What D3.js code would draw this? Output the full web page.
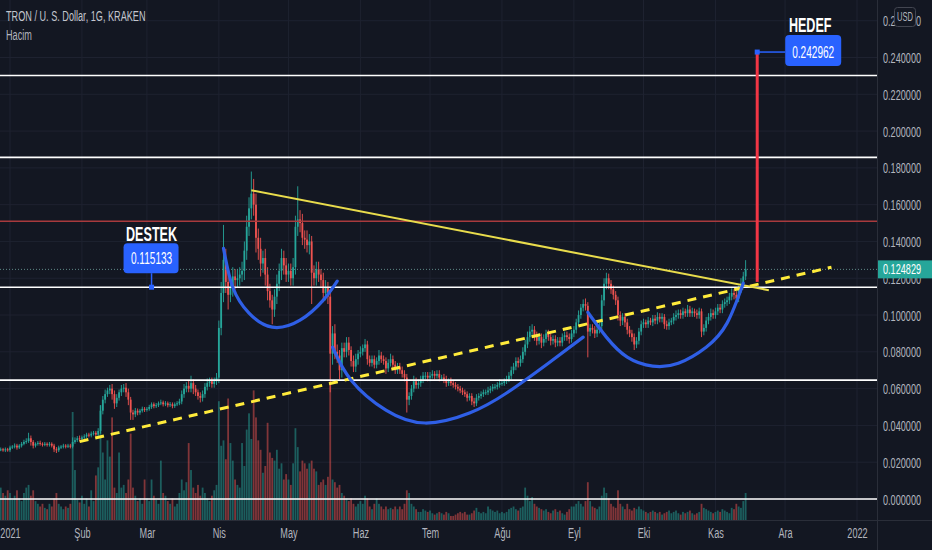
<!DOCTYPE html>
<html><head><meta charset="utf-8">
<script src="https://cdn.jsdelivr.net/npm/d3@7"></script>
<style>html,body{margin:0;padding:0;background:#131722;overflow:hidden}</style>
</head><body>
<svg id="c" width="932" height="550"></svg>
<script>
// ---------------- DATA ----------------
const title = "TRON / U. S. Dollar, 1G, KRAKEN";
const subTitle = "Hacim";
const startDate = "2020-12-28";   // first daily candle
const firstOpen = 27;             // milli-USD
// daily closes, milli-USD (Dec 28 2020 .. Nov 14 2021)
const closeM = [
 27,26.5,27,26.5,
 28,28.5,29,28,29,30,31,31.5,33,31,29,30,30.5,30,29.5,30,29.5,30,29,27,26.5,28,28.5,29,28.5,29,28.5,31,32,33,32.5,
 33.5,34,35,34.5,35.5,36,35,37,48,54,57,59,60,57,52,55,58,60,60.5,58,54,47,46,48,47,48,49,48.5,
 49,50,51.5,50.5,51,52,52.5,51.5,52,51,51.5,50.5,51.5,52,53,57,60,61.5,60,63,60,58,56,55,57,61,63,64,62.5,64,66,
 93,112,130,118,111,115,121,119,120,122,124,135,148,158,166,160,142,136,128,131,122,113,108,103,110,117,124,131,127,122,
 124,120,126,148,152,150,142,141,138,140,123,120,125,122,119,112,115,110,79,90,80,78,70,82,80,85,81,75,72,76,79,
 80,82,84,76,74,76,73,75,78,76,75,71,74,76,73,70,72,70,68,66,54,56,60,64,62,63,65,67,67,66,
 67,68,67,68,66,66,65,63,64,63,62,61,60,59,58,57,55,56,53,52,55,56,57,58,58,59,60,61,61,62,63,
 63,64,65,67,70,72,75,74,76,80,84,88,91,92,89,86,88,85,87,90,88,86,87,85,86,85,88,89,88,87,90,
 92,96,100,104,106,105,91,93,92,90,92,94,108,117,120,117,114,111,108,100,97,99,96,92,90,88,84,86,91,95,
 96,95,97,96,98,97,99,98,99,95,94,96,97,99,100,101,100,102,101,103,101,102,101,100,102,91,93,97,99,101,100,
 102,104,103,106,107,108,110,112,111,109,114,117,121,124.829
];
// upper wick above body, milli-USD
const wickUp = [
 1,0.8,1,0.8,
 1,0.8,1.2,1,0.8,1,1.2,1.5,3,1.5,1,0.8,1,1.2,0.8,1,0.8,1,0.8,1,1.2,1,0.8,1,0.8,1,1,2.5,1.5,1.2,1.5,
 1,1.2,1,1,1.2,1,1,1.5,3,2,2.5,1.5,2,2.5,2,2,1.5,2,2,2.5,2,1.5,1.5,1.5,1.2,1,1.2,1,
 1,1.2,1,1,1.2,1,1.5,1,1.2,1,1.2,1,1,1.2,1.5,2,2.5,2,3,4,2,2,1.5,2,2,2,2.5,2,2,2,2.5,
 4,6,19,6,5,6,5,4,5,4,5,5,6,6,12,8,6,5,6,4,5,4,4,3,4,5,4,5,4,4,
 4,4,5,6,18,5,5,4,5,4,3,4,4,4,3,4,4,3,3,4,5,4,3,3,3,3,3,2,3,3,2,
 3,2,3,2,2,2,2,2,3,2,2,2,2,3,2,2,2,2,2,2,2,2,2,3,2,2,2,2,2,2,
 2,2,1.5,2,2,1.5,2,2,1.5,2,1.5,1.5,1.5,1.5,1.5,1.5,1.5,1.5,1.5,2,2,1.5,1.5,1.5,1.5,2,1.5,1.5,1.5,1.5,2,
 1.5,1.5,2,2,2,2,2,2,2,2.5,2.5,3,3,3,2,2,2,2,2.5,2,2,2,2,2,2,2,2,2,2,2,2,
 2,2,2.5,2,2.5,3,2,2,2,2,2,2,3,3,3,2.5,2,2,2,2,2,2,2,2,2,2,2,2,2,2,
 2,1.5,2,1.5,2,2,2.5,2,2,1.5,2,2,1.5,2,2.5,2,2,2,1.5,2.5,2,2,1.5,2,2,1.5,2,2,2,2.5,2,
 2,2,2,2,2,2,2,2.5,2,2,2,3,2.5,5
];
// lower wick below body, milli-USD
const wickDn = [
 1,0.8,1,0.8,
 1,0.8,1,1.2,0.8,1,0.8,1,1,2,1.5,1,1,1,1,0.8,1,1,1,1.5,1.5,1,0.8,1,1,0.8,1,1,1,1,1.2,
 1,1,0.8,1,1,1,1.2,1,1.5,2,2,1.5,2,3,3,2,1.5,2,2,2.5,3,4,3,1.5,1.5,1.2,1,1.2,
 1,1,1,1.2,1,1,1,1.2,1,1.2,1,1.2,1,1,1,1.5,2,2,2,2,3,2,2,2.5,2,2,2,2,2,2,2,
 3,4,5,6,8,4,5,5,4,4,4,5,5,5,6,6,8,6,7,5,6,5,4,8,4,4,4,5,5,4,
 4,4,4,4,5,5,4,5,4,5,17,4,4,4,4,5,4,4,21,6,4,4,5,4,3,3,3,3,3,3,3,
 2,2,2,3,2,2,2,2,2,2,2,3,2,2,2,2,2,2,2,2,7,3,2,2,2,2,2,2,2,2,
 2,1.5,2,1.5,2,1.5,2,2,1.5,1.5,1.5,1.5,1.5,1.5,1.5,1.5,2,1.5,2,2,1.5,1.5,1.5,1.5,1.5,1.5,1.5,1.5,1.5,1.5,1.5,
 1.5,1.5,1.5,1.5,2,2,2,2.5,2,2,2,2,2.5,2.5,3,2.5,2,3,2,2,2,2.5,2,2.5,2,2,2,2,2,2.5,2,
 2,2,2,2,2,2.5,14,2.5,2,2.5,2,2,2,3,3,3,2.5,2.5,2.5,3,3,2.5,2.5,2.5,2,2.5,3,2,2,2,
 2,2,2,1.5,2,2,2,2,2,2.5,2,2,1.5,2,2,2,2,2,2,2,2,2,2,2,2,3,2,2,2,2,2,
 2,2,2,2,2,2,2,2,2.5,2,2,2,2,2
];
// daily volume (relative units)
const volume = [
 24,20,18,22,
 20,15,18,22,16,14,20,24,26,18,22,14,12,10,12,9,8,12,10,16,20,12,10,8,10,9,12,80,37,15,13,
 18,12,16,10,22,14,33,39,85,50,30,59,47,76,24,20,50,24,26,20,30,64,24,18,14,16,12,30,
 16,14,30,18,15,12,44,20,18,14,12,16,10,12,20,30,22,28,57,37,24,20,26,18,24,20,16,14,18,22,26,
 88,55,59,45,90,57,44,30,26,24,57,40,67,79,60,96,76,59,52,35,40,72,50,46,44,52,38,42,30,34,
 30,26,42,68,54,36,44,42,38,42,44,38,36,26,28,30,26,32,100,30,28,24,26,20,18,16,14,16,12,10,12,
 14,12,18,16,10,8,12,16,12,10,8,10,8,9,8,10,8,10,8,12,22,20,12,10,8,6,6,8,7,6,
 7,5,4,5,6,5,4,6,5,3,3,4,5,6,5,6,4,4,5,7,9,6,5,6,5,10,8,7,6,7,5,
 6,5,6,8,9,10,8,7,9,10,24,18,14,17,12,10,9,8,7,8,6,5,7,8,6,7,5,4,6,8,10,
 10,12,14,12,10,14,28,14,10,9,8,10,18,24,20,16,12,10,9,22,12,10,8,12,8,7,9,8,10,8,
 7,6,5,6,7,6,5,6,4,5,6,7,5,6,7,5,4,6,5,6,7,5,4,5,6,12,9,8,7,6,5,
 6,7,6,8,7,6,5,9,8,12,10,9,14,20
];
const priceTicks = [0,0.02,0.04,0.06,0.08,0.10,0.12,0.14,0.16,0.18,0.20,0.22,0.24,0.26];
const monthTicks = [["2021-01-01","2021"],["2021-02-01","Şub"],["2021-03-01","Mar"],["2021-04-01","Nis"],
 ["2021-05-01","May"],["2021-06-01","Haz"],["2021-07-01","Tem"],["2021-08-01","Ağu"],["2021-09-01","Eyl"],
 ["2021-10-01","Eki"],["2021-11-01","Kas"],["2021-12-01","Ara"],["2022-01-01","2022"]];
const whiteLevels = [0.2302, 0.1857, 0.115133, 0.0646, 0];
const redLevels = [0.151];
const lastPrice = 0.124829;
const trendSolid = [["2021-04-15",0.1678],["2021-11-24",0.1135]];
const trendDashed = [["2021-01-31",0.0312],["2021-12-21",0.1260]];
const arc1 = [["2021-04-03",0.1363],["2021-04-07",0.1151],["2021-04-14",0.1010],["2021-04-24",0.0934],["2021-05-06",0.0972],["2021-05-16",0.1081],["2021-05-22",0.1184]];
const arc2 = [["2021-05-20",0.0825],["2021-05-28",0.0646],["2021-06-12",0.0483],["2021-06-29",0.0413],["2021-07-18",0.0467],["2021-08-03",0.0576],["2021-08-21",0.0738],["2021-09-05",0.0880]];
const arc3 = [["2021-09-07",0.1015],["2021-09-15",0.0880],["2021-09-24",0.0771],["2021-10-05",0.0722],["2021-10-16",0.0738],["2021-10-28",0.0825],["2021-11-06",0.0956],["2021-11-13",0.1173]];
const target = {label:"HEDEF", date:"2021-11-19", from:0.118, price:0.242962};
const support = {label:"DESTEK", date:"2021-03-03", price:0.115133};

// ---------------- DRAW ----------------
const SX = 0.63;
const FONT = "'Liberation Sans', Arial, sans-serif";
const PR = 877, PB = 520;
const parse = d3.utcParse("%Y-%m-%d");
const x = d3.scaleUtc().domain([parse("2021-01-01"), parse("2022-01-01")]).range([10, 857]);
const y = d3.scaleLinear().domain([0, 0.24]).range([499, 57.5]);
const yv = d3.scaleLinear().domain([0, 100]).range([PB, 385]);
const t0 = parse(startDate);
const bars = closeM.map((c, i) => {
  const o = i === 0 ? firstOpen : closeM[i - 1];
  return {d: d3.utcDay.offset(t0, i), o: o / 1000, c: c / 1000,
    h: (Math.max(o, c) + wickUp[i]) / 1000, l: (Math.min(o, c) - wickDn[i]) / 1000, v: volume[i]};
});
const GREEN = "#26a69a", RED = "#ef5350";

const svg = d3.select("#c");
svg.append("rect").attr("width", 932).attr("height", 550).attr("fill", "#131722");
svg.append("defs").append("clipPath").attr("id", "plot").append("rect")
  .attr("x", 0).attr("y", 0).attr("width", PR).attr("height", PB);

function txt(parent, tx, ty, s, o = {}) {
  return parent.append("text")
    .attr("transform", `translate(${tx},${ty}) scale(${o.sx || SX},1)`)
    .attr("text-anchor", o.anchor || "start")
    .attr("dy", o.dy || null)
    .attr("font-family", FONT).attr("font-size", o.size || 14)
    .attr("font-weight", o.weight || 400).attr("fill", o.fill || "#b2b5be").text(s);
}

const plot = svg.append("g").attr("clip-path", "url(#plot)");
// grid
plot.selectAll("line.gh").data(priceTicks).join("line").attr("class", "gh")
  .attr("x1", 0).attr("x2", PR).attr("y1", d => y(d)).attr("y2", d => y(d))
  .attr("stroke", "#1e2230").attr("stroke-width", 1);
plot.selectAll("line.gv").data(monthTicks).join("line").attr("class", "gv")
  .attr("x1", d => x(parse(d[0]))).attr("x2", d => x(parse(d[0])))
  .attr("y1", 0).attr("y2", PB).attr("stroke", "#1e2230").attr("stroke-width", 1);

// volume
const bw = 1.8;
plot.selectAll("rect.vol").data(bars).join("rect").attr("class", "vol")
  .attr("x", d => x(d.d) - bw / 2).attr("width", bw)
  .attr("y", d => yv(d.v)).attr("height", d => PB - yv(d.v))
  .attr("fill", d => d.c >= d.o ? GREEN : RED).attr("fill-opacity", 0.5);

// candles
const cg = plot.append("g");
cg.selectAll("line.wick").data(bars).join("line").attr("class", "wick")
  .attr("x1", d => x(d.d)).attr("x2", d => x(d.d))
  .attr("y1", d => y(d.h)).attr("y2", d => y(d.l))
  .attr("stroke", d => d.c >= d.o ? GREEN : RED).attr("stroke-width", 0.9);
cg.selectAll("rect.body").data(bars).join("rect").attr("class", "body")
  .attr("x", d => x(d.d) - bw / 2).attr("width", bw)
  .attr("y", d => y(Math.max(d.o, d.c)))
  .attr("height", d => Math.max(1, Math.abs(y(d.o) - y(d.c))))
  .attr("fill", d => d.c >= d.o ? GREEN : RED);

// horizontal levels
plot.append("line").attr("x1", 0).attr("x2", PR).attr("y1", y(lastPrice)).attr("y2", y(lastPrice))
  .attr("stroke", "#5f8a88").attr("stroke-width", 1).attr("stroke-dasharray", "1,2");
plot.selectAll("line.wl").data(whiteLevels).join("line").attr("class", "wl")
  .attr("x1", 0).attr("x2", PR).attr("y1", d => y(d)).attr("y2", d => y(d))
  .attr("stroke", "#ffffff").attr("stroke-width", 1.6);
plot.selectAll("line.rl").data(redLevels).join("line").attr("class", "rl")
  .attr("x1", 0).attr("x2", PR).attr("y1", d => y(d)).attr("y2", d => y(d))
  .attr("stroke", "#a83a3d").attr("stroke-width", 1.5);

// trend lines
const ln = d3.line().x(d => x(parse(d[0]))).y(d => y(d[1]));
plot.append("path").attr("d", ln(trendDashed)).attr("fill", "none")
  .attr("stroke", "#ffeb3b").attr("stroke-width", 3).attr("stroke-dasharray", "9,7");
plot.append("path").attr("d", ln(trendSolid)).attr("fill", "none")
  .attr("stroke", "#e9dc4c").attr("stroke-width", 2);
const arcLine = d3.line().x(d => x(parse(d[0]))).y(d => y(d[1])).curve(d3.curveNatural);
[arc1, arc2, arc3].forEach(a => plot.append("path").attr("d", arcLine(a)).attr("fill", "none")
  .attr("stroke", "#2f5fe6").attr("stroke-width", 3.2).attr("stroke-linecap", "round"));

// target
const BLUE = "#2962ff";
const tx = x(parse(target.date)), ty = y(target.price);
plot.append("line").attr("x1", tx).attr("x2", tx).attr("y1", y(target.from)).attr("y2", ty)
  .attr("stroke", "#f23645").attr("stroke-width", 3);
plot.append("line").attr("x1", tx).attr("x2", tx + 28).attr("y1", ty).attr("y2", ty)
  .attr("stroke", BLUE).attr("stroke-width", 1.5);
plot.append("rect").attr("x", tx - 2.5).attr("y", ty - 2.5).attr("width", 5).attr("height", 5).attr("fill", BLUE);
plot.append("rect").attr("x", tx + 28).attr("y", ty - 17).attr("width", 56).attr("height", 31)
  .attr("rx", 4).attr("fill", BLUE);
txt(plot, tx + 56, ty, d3.format(".6f")(target.price), {anchor: "middle", dy: "0.35em", size: 16, fill: "#ffffff"});
txt(plot, tx + 53, ty - 20, target.label, {anchor: "middle", size: 21, weight: 700, fill: "#ffffff", sx: 0.6});

// support
const sx = x(parse(support.date)), sy = y(support.price);
plot.append("line").attr("x1", sx).attr("x2", sx).attr("y1", sy - 14).attr("y2", sy)
  .attr("stroke", BLUE).attr("stroke-width", 1.5);
plot.append("rect").attr("x", sx - 2.5).attr("y", sy - 2.5).attr("width", 5).attr("height", 5).attr("fill", BLUE);
plot.append("rect").attr("x", sx - 28).attr("y", sy - 44).attr("width", 55).attr("height", 30)
  .attr("rx", 4).attr("fill", BLUE);
txt(plot, sx, sy - 29, d3.format(".6f")(support.price), {anchor: "middle", dy: "0.35em", size: 16, fill: "#ffffff"});
txt(plot, sx, sy - 46, support.label, {anchor: "middle", size: 21, weight: 700, fill: "#ffffff", sx: 0.6});

// legend
txt(svg, 6, 21, title, {size: 14.5, fill: "#c3c6ce"});
txt(svg, 6, 40, subTitle, {size: 14.5, fill: "#b2b5be"});

// axes
svg.append("line").attr("x1", PR + 0.5).attr("x2", PR + 0.5).attr("y1", 0).attr("y2", 550).attr("stroke", "#2a2e39");
svg.append("line").attr("x1", 0).attr("x2", 932).attr("y1", PB + 0.5).attr("y2", PB + 0.5).attr("stroke", "#2a2e39");

const yAxis = svg.append("g").attr("transform", `translate(${PR},0)`)
  .call(d3.axisRight(y).tickValues(priceTicks).tickSize(0).tickFormat(d3.format(".6f")));
yAxis.select(".domain").remove();
yAxis.selectAll("text").attr("x", 0).attr("dy", "0.35em")
  .attr("transform", `translate(6,0) scale(${SX},1)`)
  .attr("font-family", FONT).attr("font-size", 14.5).attr("fill", "#b2b5be");

const monthLabel = new Map(monthTicks.map(d => [+parse(d[0]), d[1]]));
const xAxis = svg.append("g").attr("transform", `translate(0,${PB})`)
  .call(d3.axisBottom(x).tickValues(monthTicks.map(d => parse(d[0]))).tickSize(0)
    .tickFormat(d => monthLabel.get(+d)));
xAxis.select(".domain").remove();
xAxis.selectAll("text").attr("y", 0).attr("x", 0).attr("dy", "0.35em")
  .attr("transform", `translate(0,13) scale(${SX},1)`)
  .attr("font-family", FONT).attr("font-size", 14.5).attr("fill", "#b2b5be");

// last price tag
const lp = y(lastPrice);
svg.append("rect").attr("x", PR + 1).attr("y", lp - 9).attr("width", 932 - PR).attr("height", 18)
  .attr("fill", GREEN);
txt(svg, PR + 6, lp, d3.format(".6f")(lastPrice), {dy: "0.35em", size: 14.5, fill: "#ffffff"});

// USD box
svg.append("rect").attr("x", 894.5).attr("y", 7.5).attr("width", 21).attr("height", 19).attr("rx", 3)
  .attr("fill", "#131722").attr("stroke", "#434651");
txt(svg, 905, 17, "USD", {anchor: "middle", dy: "0.35em", size: 12, fill: "#b2b5be"});
</script>
</body></html>
